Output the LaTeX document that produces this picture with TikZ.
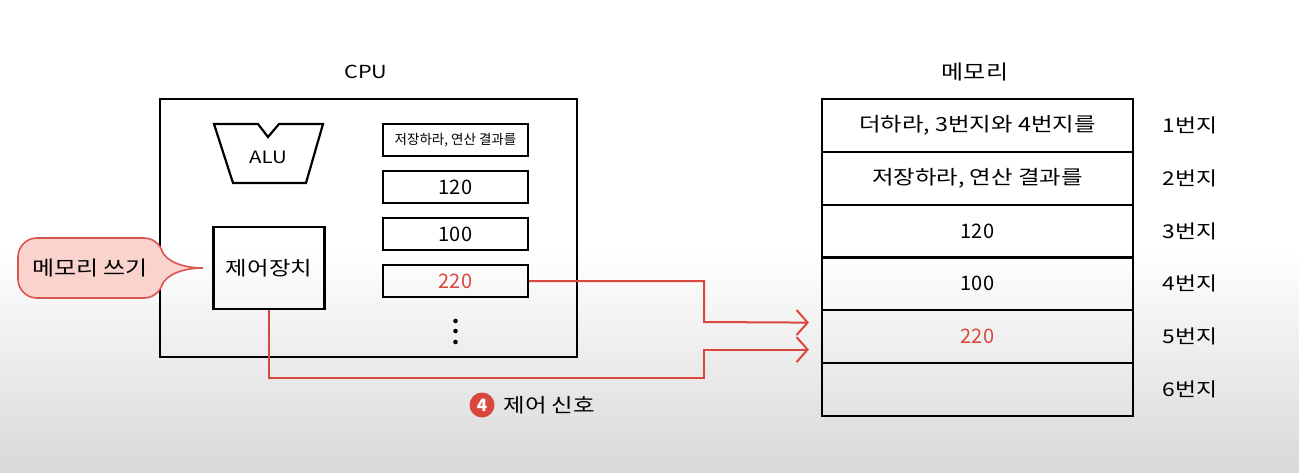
\documentclass[tikz,border=0pt]{standalone}
\usepackage{fontspec}
\setmainfont[FakeStretch=1.2]{Noto Sans CJK KR}
\newfontfamily\plainfont{Noto Sans CJK KR}
\usetikzlibrary{arrows.meta,calc}
\definecolor{sigred}{HTML}{D9483E}
\definecolor{bubblefill}{HTML}{FAD3CD}
\definecolor{bubbleline}{HTML}{D95550}
\newcommand{\fs}[1]{\fontsize{#1}{#1}\selectfont}
\tikzset{
  frame/.style={draw=black, line width=2.2pt},
  regbox/.style={draw=black, line width=2pt, minimum width=145pt, minimum height=32pt, inner sep=0pt, font=\plainfont\fs{20}},
  memrow/.style={draw=black, line width=2.2pt, minimum width=311pt, minimum height=52.8pt, inner sep=0pt, font=\fs{19.5}},
  numtext/.style={font=\plainfont\fs{20}},
  addr/.style={font=\fs{19}},
  title/.style={font=\fs{20}},
  signal/.style={draw=sigred, line width=2pt, line join=miter},
  sigarrow/.style={signal, -{Straight Barb[length=11pt,width=25pt,line width=2pt]}},
}
\begin{document}
\begin{tikzpicture}[x=1pt, y=-1pt]
  % page background with the lower fade
  \useasboundingbox (0,0) rectangle (1299,472);
  \fill[white] (0,0) rectangle (1299,472);
  \shade[top color=white, bottom color=black!15] (0,250) rectangle (1299,472);

  % ---------- CPU ----------
  \node[title, font=\fs{18}] (cputitle) at (366,72) {CPU};
  \node[frame, minimum width=417pt, minimum height=258pt, inner sep=0pt] (cpu) at (368.5,228) {};

  % ALU trapezoid with its notch
  \draw[frame, line join=miter] (214,124) -- (258,124) -- (268,137) -- (279,124) -- (323,124)
        -- (306,183) -- (233,183) -- cycle;
  \node[font=\fs{17}] (alu) at (268,157) {ALU};

  % control unit
  \node[frame, minimum width=111pt, minimum height=82pt, inner sep=0pt,
        font=\fs{19.5}] (cu) at (269,268) {제어장치};

  % registers
  \node[regbox, font=\plainfont\fs{13.5}] (r1) at (455.5,140) {저장하라, 연산 결과를};
  \node[regbox] (r2) at (455.5,187) {120};
  \node[regbox] (r3) at (455.5,234) {100};
  \node[regbox, text=sigred] (r4) at (455.5,281) {220};
  \foreach \yy [count=\i] in {321,331,342}
    \fill (455.5,\yy) circle (2.3pt) coordinate (dot\i);

  % speech bubble: rounded body, then the tail laid over its right edge
  \filldraw[draw=bubbleline, fill=bubblefill, line width=1.6pt, rounded corners=19pt]
    (18,238) rectangle (163,298);
  \fill[bubblefill] (160,249) .. controls (166,262) and (184,268) .. (203,268)
    .. controls (184,268) and (166,274) .. (160,287) -- cycle;
  \draw[draw=bubbleline, line width=1.6pt]
    (161.5,250) .. controls (166,262) and (184,268) .. (203,268)
    .. controls (184,268) and (166,274) .. (161.5,286);
  \node[font=\fs{20}] (bubble) at (90,268) {메모리 쓰기};

  % ---------- memory ----------
  \node[title] (memtitle) at (975,72) {메모리};
  \node[memrow] (m1) at (977.5,125.4) {더하라, 3번지와 4번지를};
  \node[memrow] (m2) at (977.5,178.2) {저장하라, 연산 결과를};
  \node[memrow, numtext] (m3) at (977.5,231.0) {120};
  \node[memrow, numtext] (m4) at (977.5,283.8) {100};
  \node[memrow, numtext, text=sigred] (m5) at (977.5,336.6) {220};
  \node[memrow] (m6) at (977.5,389.4) {};
  \foreach \i in {1,...,6}
    \node[addr] (a\i) at (1190,{99+52.8*(\i-0.5)}) {\i{}번지};

  % ---------- signals ----------
  \coordinate (t1) at ([xshift=-12pt,yshift=14pt]m5.west);
  \coordinate (t2) at ([xshift=-12pt,yshift=-13pt]m5.west);
  \coordinate (b1) at (704,322);
  \coordinate (b2) at (704,378);
  \draw[sigarrow] (r4.east) -| (b1) -- (t1);
  \draw[sigarrow] (cu.south) |- (b2) |- (t2);

  \node[circle, fill=sigred, inner sep=0pt, minimum size=25pt, text=white,
        font=\plainfont\fs{17}\bfseries] (step4) at (482,405) {4};
  \node[font=\fs{19.5}, anchor=west] (siglabel) at (500,405) {제어 신호};
\end{tikzpicture}
\end{document}
